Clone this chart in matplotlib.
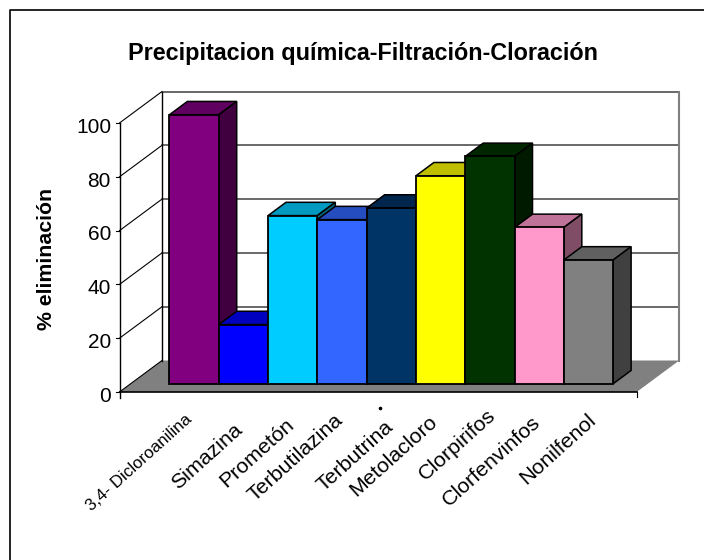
import matplotlib
matplotlib.use('Agg')
import matplotlib.pyplot as plt
from matplotlib.colors import to_rgb
from matplotlib.patches import Polygon

categories = ['3,4- Dicloroanilina', 'Simazina', 'Prometón', 'Terbutilazina', 'Terbutrina',
              'Metolacloro', 'Clorpirifos', 'Clorfenvinfos', 'Nonilfenol']
removal = [100, 22, 62.5, 61, 65.3, 77.3, 84.5, 58.1, 46]
bar_colors = ['#800080', '#0000ff', '#00ccff', '#3366ff', '#003366',
              '#ffff00', '#003300', '#ff99cc', '#808080']
y_ticks = [0, 20, 40, 60, 80, 100]

# pixel position where each rotated label ends
label_ends = [(190, 417), (240, 427), (291, 422), (340, 417), (391, 424),
              (435, 419), (493, 413), (538, 420), (593, 417)]

plt.rcParams['font.family'] = ['Liberation Sans', 'DejaVu Sans']

# pixels per unit, x in bar widths and y in percent
PX, PY = 49.3, 2.69
W, H = 704, 560
X0, Y0 = 119.5, 392

# oblique offset of the back wall from the front plane
DX, DY = 42.5 / PX, 31.5 / PY
FLOOR = 517.2 / PX
BAR_D0, BAR_D1 = 0.263, 0.685
BAR_START = 0.787


def proj(x, y, d):
    return x + d * DX, y + d * DY


def shade(color, k):
    return tuple(c * k for c in to_rgb(color))


def px(x, y):
    # figure pixel (from top left) to data coordinates
    return (x - X0) / PX, (Y0 - y) / PY


fig = plt.figure(figsize=(W / 100, H / 100), dpi=100)
ax = fig.add_axes([0, 0, 1, 1])
ax.set_xlim(-X0 / PX, (W - X0) / PX)
ax.set_ylim(-(H - Y0) / PY, Y0 / PY)
ax.axis('off')

# chart frame, only top and left show
corner = px(9.5, 10)
ax.plot([corner[0], corner[0], px(W, 0)[0]],
        [px(0, H)[1], corner[1], corner[1]], color='black', lw=1.2)

# floor
floor = [proj(0, 0, 0), proj(FLOOR, 0, 0), proj(FLOOR, 0, 1), proj(0, 0, 1)]
ax.add_patch(Polygon(floor, facecolor='#808080', edgecolor='none', zorder=1))

# walls and gridlines
for v in y_ticks:
    xa, ya = proj(0, v, 0)
    xb, yb = proj(0, v, 1)
    xc, yc = proj(FLOOR, v, 1)
    ax.plot([xa, xb], [ya, yb], color='black', lw=0.8, zorder=2)
    if v > 0:
        ax.plot([xb, xc], [yb, yc], color='#404040', lw=1.1, zorder=2)
    ax.plot([xa - 4 / PX, xa], [ya, ya], color='black', lw=0.8, zorder=2)
    ax.text(xa - 8.5 / PX, v - 1.6, str(v), ha='right', va='center', fontsize=15, color='black')

xb, _ = proj(0, 0, 1)
_, yb0 = proj(0, 0, 1)
_, yb1 = proj(0, 100, 1)
ax.plot([xb, xb], [yb0, yb1], color='black', lw=1.0, zorder=2)
xc, _ = proj(FLOOR, 0, 1)
ax.plot([xc, xc], [yb0, yb1], color='#808080', lw=1.5, zorder=2)
ax.plot([0, 0], [-6 / PY, 100], color='black', lw=1.0, zorder=2)
ax.plot([0, FLOOR], [0, 0], color='black', lw=1.2, zorder=6)
ax.plot([FLOOR, FLOOR], [-5 / PY, 0], color='black', lw=0.8, zorder=2)

# bars left to right so each one covers the side of the previous one
for i, (val, col) in enumerate(zip(removal, bar_colors)):
    left = BAR_START + i
    right = left + 1
    z = 3 + i * 0.1
    fx, fy = proj(left, 0, BAR_D0)
    ax.bar(fx, val, width=1, bottom=fy, align='edge', color=col, edgecolor='black', lw=1.3, zorder=z + 0.02)
    top = [proj(left, val, BAR_D0), proj(right, val, BAR_D0), proj(right, val, BAR_D1), proj(left, val, BAR_D1)]
    side = [proj(right, 0, BAR_D0), proj(right, 0, BAR_D1), proj(right, val, BAR_D1), proj(right, val, BAR_D0)]
    ax.add_patch(Polygon(top, facecolor=shade(col, 0.75), edgecolor='black', lw=1.1, zorder=z))
    ax.add_patch(Polygon(side, facecolor=shade(col, 0.5), edgecolor='black', lw=1.1, zorder=z))

    lx, ly = px(*label_ends[i])
    size = 12.2 if i == 0 else 15.4
    ax.text(lx, ly, categories[i], rotation=42, rotation_mode='anchor',
            ha='right', va='center', fontsize=size, color='black', zorder=7)

# upper part of the last letter of Terbutrina is cut away, a speck stays above it
cut = [px(383, 408), px(400, 408), px(400, 423), px(391, 420), px(386, 417)]
ax.add_patch(Polygon(cut, facecolor='white', edgecolor='none', zorder=8))
ax.plot(*px(380, 408), marker='o', markersize=1.6, color='black', zorder=8)

ax.text(*px(362.5, 53), 'Precipitacion química-Filtración-Cloración',
        ha='center', va='center', fontsize=16.8, fontweight='bold')
ax.text(*px(46.5, 259), '% eliminación', rotation=90,
        ha='center', va='center', fontsize=15.3, fontweight='bold')

fig.savefig('out.png', dpi=100, facecolor='white')
